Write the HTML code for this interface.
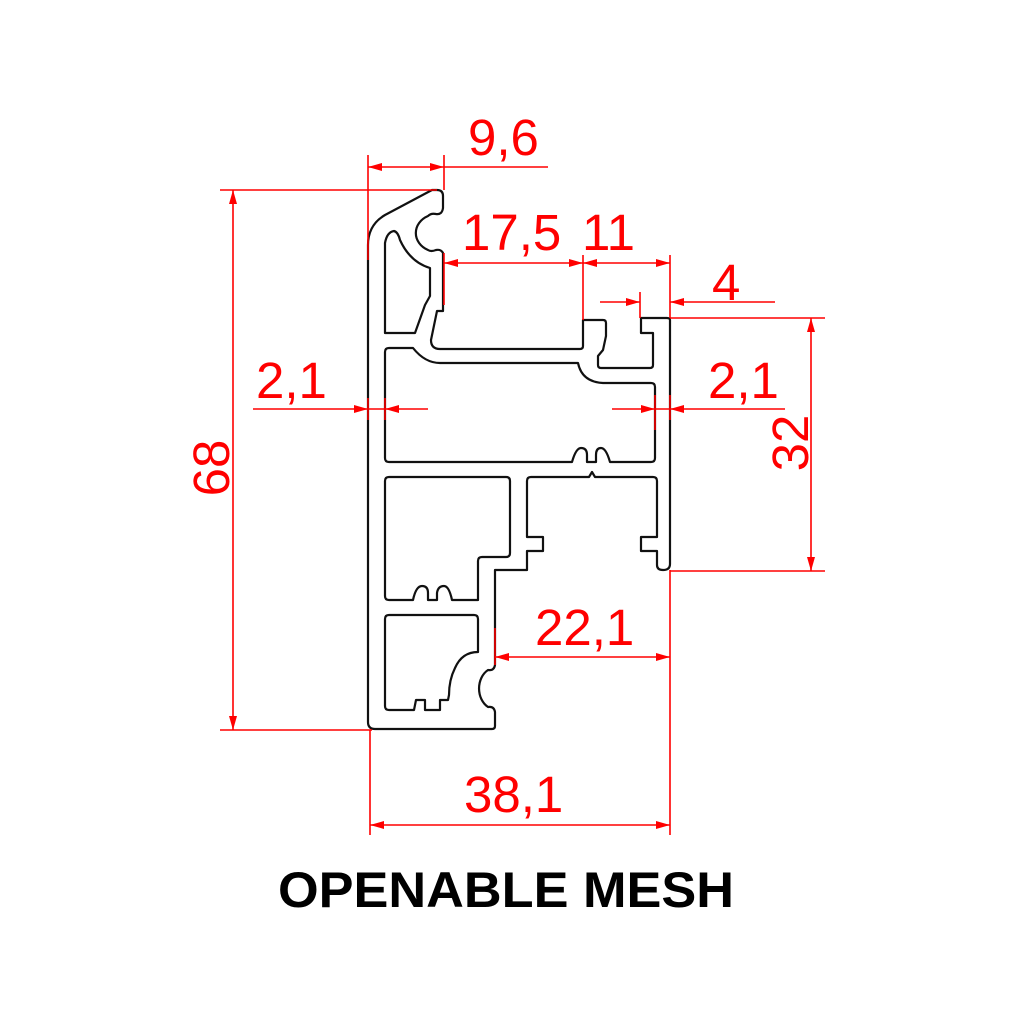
<!DOCTYPE html>
<html><head><meta charset="utf-8"><style>
html,body{margin:0;padding:0;background:#fff;}
svg{display:block;}
.d{font-family:"Liberation Sans",sans-serif;font-size:51px;fill:#ff0000;}
</style></head><body>
<svg width="1024" height="1024" viewBox="0 0 1024 1024" xmlns="http://www.w3.org/2000/svg">
<rect width="1024" height="1024" fill="#fff"/>
<g fill="none" stroke="#111" stroke-width="2.2" stroke-linejoin="round">
<path d="M368,245 L368,722 Q368,729 375,729 L492,729 Q495,729 495,726 L495,712 Q494,706 488,707 A17 21 0 0 1 488,670 Q494,671 495,665 L495,570 L527,570 L527,551 L543,551 L543,537 L527,537 L527,481 Q527,477 531,477 L589,477 L592,472 L595,477 L653,477 Q657,477 657,481 L657,537 L641,537 L641,551 L657,551 L657,565 Q657,570 663,570 Q670,570 670,564 L670,320 Q670,318 667,318 L641,318 L641,333 L653,333 L653,365 Q653,368 650,368 L601,368 Q598,368 598,365 L598,356 L603,350 L606,336 L606,323 Q606,320 603,320 L583,320 L583,346 Q583,349 580,349 L440,349 Q431,349 431,340 L437,311 L443,311 L443,253 Q441,249 436,250 Q431,252 428,250 A22 19 0 0 1 428,216 Q431,213 436,214 Q442,215 443,208 L443,196 Q443,190 437,190 L432,190 L385,215 Q368,225 368,245 Z"/>
<path d="M385,333 L385,243 Q387,232 394,231 Q398,232 400,240 Q410,262 430,268 L430,296 L425,305 L415,333 Z"/>
<path d="M385,352 Q385,348 389,348 L413,348 Q425,363 440,363 L578,363 Q582,382 603,383 L651,383 Q655,383 655,387 L655,458 Q655,462 651,462 L610,462 Q606,448 601,448 Q596,448 596,455 L596,462 L587,462 L587,455 Q587,448 581,448 Q576,448 572,462 L389,462 Q385,462 385,458 Z"/>
<path d="M385,481 Q385,477 389,477 L506,477 Q510,477 510,481 L510,553 Q510,557 506,557 L482,557 Q478,557 478,561 L478,600 L452,600 Q449,586 444,586 Q438,586 437,593 L437,600 L428,600 L428,593 Q428,586 422,586 Q416,586 413,600 L389,600 Q385,600 385,596 Z"/>
<path d="M385,619 Q385,615 389,615 L474,615 Q478,615 478,619 L478,652 Q462,652 455,668 Q449,680 449,695 L448,700 L440,700 L440,710 L425,710 L425,700 L416,700 L414,710 L389,710 Q385,710 385,706 Z"/>
</g>
<g stroke="#ff0000" stroke-width="1.6" fill="none">
<!-- 9,6 -->
<line x1="368" y1="155" x2="368" y2="260"/><line x1="444" y1="155" x2="444" y2="190"/>
<line x1="368" y1="167" x2="548" y2="167"/>
<!-- 68 -->
<line x1="220" y1="190" x2="437" y2="190"/><line x1="220" y1="730" x2="372" y2="730"/>
<line x1="233" y1="190" x2="233" y2="730"/>
<!-- 17,5 11 -->
<line x1="444" y1="253" x2="444" y2="305"/><line x1="583" y1="255" x2="583" y2="320"/><line x1="670" y1="255" x2="670" y2="318"/>
<line x1="444" y1="263" x2="670" y2="263"/>
<!-- 4 -->
<line x1="640" y1="292" x2="640" y2="318"/>
<line x1="600" y1="302" x2="640" y2="302"/><line x1="670" y1="302" x2="775" y2="302"/>
<!-- 32 -->
<line x1="670" y1="318" x2="825" y2="318"/><line x1="670" y1="571" x2="825" y2="571"/>
<line x1="811" y1="318" x2="811" y2="571"/>
<!-- 2,1 left -->
<line x1="253" y1="409" x2="428" y2="409"/>
<line x1="368" y1="398" x2="368" y2="420"/><line x1="385" y1="398" x2="385" y2="420"/>
<!-- 2,1 right -->
<line x1="612" y1="409" x2="785" y2="409"/>
<line x1="655" y1="395" x2="655" y2="430"/><line x1="670" y1="395" x2="670" y2="420"/>
<!-- 22,1 -->
<line x1="495" y1="628" x2="495" y2="665"/><line x1="670" y1="570" x2="670" y2="835"/>
<line x1="495" y1="657" x2="670" y2="657"/>
<!-- 38,1 -->
<line x1="370" y1="730" x2="370" y2="835"/>
<line x1="370" y1="825" x2="670" y2="825"/>
</g>
<g fill="#ff0000">
<polygon points="368,167 382,163 382,171"/><polygon points="444,167 430,163 430,171"/>
<polygon points="233,190 229,204 237,204"/><polygon points="233,730 229,716 237,716"/>
<polygon points="444,263 458,259 458,267"/><polygon points="583,263 569,259 569,267"/>
<polygon points="583,263 597,259 597,267"/><polygon points="670,263 656,259 656,267"/>
<polygon points="640,302 626,298 626,306"/><polygon points="670,302 684,298 684,306"/>
<polygon points="811,318 807,332 815,332"/><polygon points="811,571 807,557 815,557"/>
<polygon points="368,409 354,405 354,413"/><polygon points="385,409 399,405 399,413"/>
<polygon points="655,409 641,405 641,413"/><polygon points="670,409 684,405 684,413"/>
<polygon points="495,657 509,653 509,661"/><polygon points="670,657 656,653 656,661"/>
<polygon points="370,825 384,821 384,829"/><polygon points="670,825 656,821 656,829"/>
</g>
<g class="d">
<text x="468" y="155">9,6</text>
<text x="462" y="250">17,5</text>
<text x="582" y="250">11</text>
<text x="712" y="300">4</text>
<text x="256" y="398">2,1</text>
<text x="708" y="398">2,1</text>
<text x="535" y="645">22,1</text>
<text x="464" y="812">38,1</text>
<text transform="translate(229,468) rotate(-90)" text-anchor="middle">68</text>
<text transform="translate(808,443) rotate(-90)" text-anchor="middle">32</text>
</g>
<text x="506" y="907" text-anchor="middle" textLength="456" lengthAdjust="spacingAndGlyphs" font-family="Liberation Sans, sans-serif" font-weight="bold" font-size="50" fill="#000">OPENABLE MESH</text>
</svg>
</body></html>
